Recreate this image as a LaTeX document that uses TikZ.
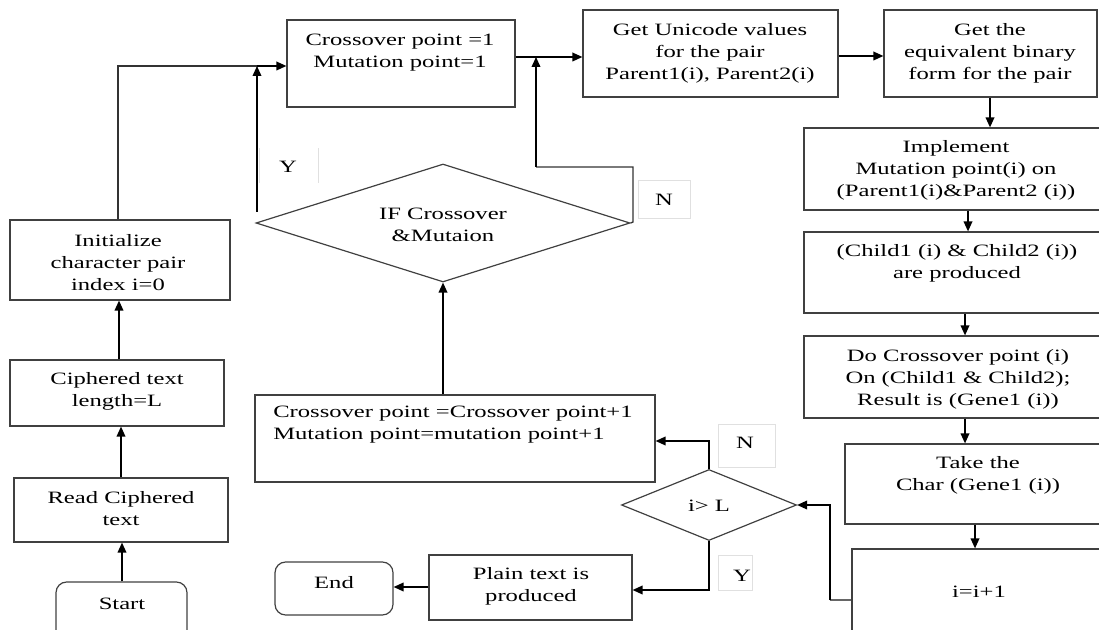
\documentclass[tikz,border=0pt]{standalone}
\usepackage{fontspec}
\setmainfont{Liberation Serif}[FakeStretch=1.42]
\usetikzlibrary{arrows.meta,fit,shapes.geometric}
\tikzset{
  box/.style={draw=black!75, line width=0.9pt, inner sep=0pt},
  rbox/.style={box, rounded corners=8pt},
  lbl/.style={draw=black!12, line width=0.6pt, inner sep=0pt},
  txt/.style={align=center, inner sep=0pt, font=\fontsize{13}{16.5}\selectfont},
  arr/.style={draw=black, line width=1.1pt, -{Triangle[length=7.5pt,width=6.5pt]}},
  ln/.style={draw=black!80, line width=1pt},
  dia/.style={diamond, draw=black!75, line width=0.9pt, inner sep=0pt}
}
\begin{document}
\begin{tikzpicture}[x=0.75pt,y=-0.75pt]
\useasboundingbox (0,0) rectangle (1099,630);
\clip (0,0) rectangle (1099,630);
% boxes
\node[rbox, fit={(56,582)(187,645)}] (start) {};
\node[txt] (startT) at (122,604) {Start};
\node[box, fit={(14,478)(228,542)}] (read) {};
\node[txt] (readT) at (121,509) {Read Ciphered\\text};
\node[box, fit={(10,360)(224,426)}] (ciph) {};
\node[txt] (ciphT) at (117,391) {Ciphered text\\length=L};
\node[box, fit={(10,220)(230,300)}] (init) {};
\node[txt] (initT) at (118,263) {Initialize\\character pair\\index i=0};
\node[box, fit={(287,20)(515,107)}] (cp) {};
\node[txt] (cpT) at (400,53) {Crossover point =1\\Mutation point=1};
\node[box, fit={(583,10)(838,97)}] (uni) {};
\node[txt] (uniT) at (710,53) {Get Unicode values\\for the pair\\Parent1(i), Parent2(i)};
\node[box, fit={(884,10)(1097,97)}] (bin) {};
\node[txt] (binT) at (990,53) {Get the\\equivalent binary\\form for the pair};
\node[box, fit={(804,128)(1115,210)}] (impl) {};
\node[txt] (implT) at (956,170) {Implement\\Mutation point(i) on\\(Parent1(i)\&Parent2 (i))};
\node[box, fit={(804,232)(1115,313)}] (child) {};
\node[txt] (childT) at (957,263) {(Child1 (i) \& Child2 (i))\\are produced};
\node[box, fit={(804,336)(1115,418)}] (dc) {};
\node[txt] (dcT) at (958,379) {Do Crossover point (i)\\On (Child1 \& Child2);\\Result is (Gene1 (i))};
\node[box, fit={(845,444)(1115,524)}] (tc) {};
\node[txt] (tcT) at (978,475) {Take the\\Char (Gene1 (i))};
\node[box, fit={(852,549)(1115,645)}] (inc) {};
\node[txt] (incT) at (979,592) {i=i+1};
\node[dia, minimum width=131.25pt, minimum height=53.25pt] (dec) at (709,505) {};
\node[txt] (decT) at (709,506) {i> L};
\node[box, fit={(255,395)(655,482)}] (cp2) {};
\node[txt, align=left, anchor=west] (cp2T) at (273,425) {Crossover point =Crossover point+1\\Mutation point=mutation point+1};
\node[box, fit={(429,555)(632,620)}] (plain) {};
\node[txt] (plainT) at (531,586) {Plain text is\\produced};
\node[rbox, fit={(275,562)(393,615)}] (endn) {};
\node[txt] (endT) at (334,583) {End};
\node[dia, minimum width=280.5pt, minimum height=88.5pt] (big) at (443,223) {};
\node[txt] (bigT) at (443,225) {IF Crossover\\\&Mutaion};
% labels
\draw[black!12, line width=0.6pt] (259,148) -- (259,183) (318,148) -- (318,183);
\node[txt] (yA) at (288,167) {Y};
\node[lbl, fit={(638,180)(690,218)}] (nAbox) {};
\node[txt] (nA) at (664,200) {N};
\node[lbl, fit={(718,424)(775,467)}] (nBbox) {};
\node[txt] (nB) at (745,443) {N};
\node[lbl, fit={(718,555)(752,590)}] (yBbox) {};
\node[txt] (yB) at (742,576) {Y};
% coordinates
\coordinate (j1) at (536,57);
\coordinate (j2) at (257,66);
% connectors
\draw[arr] (start.north -| 122,0) -- (read.south -| 122,0);
\draw[arr] (read.north -| 121,0) -- (ciph.south -| 121,0);
\draw[arr] (ciph.north -| 119,0) -- (init.south -| 119,0);
\draw[ln] (init.north -| 118,0) |- (j2);
\draw[arr] (j2) -- (cp.west |- j2);
\draw[arr] (j2 |- 0,212) -- (j2);
\draw[arr] (cp.east |- j1) -- (uni.west |- j1);
\draw[arr] (uni.east |- 0,56) -- (bin.west |- 0,56);
\draw[ln] (big.east) -- (633,222) -- (633,167) -- (536,167);
\draw[arr] (536,167) -- (j1);
\draw[arr] (bin.south -| 990,0) -- (impl.north -| 990,0);
\draw[arr] (impl.south -| 968,0) -- (child.north -| 968,0);
\draw[arr] (child.south -| 965,0) -- (dc.north -| 965,0);
\draw[arr] (dc.south -| 965,0) -- (tc.north -| 965,0);
\draw[arr] (tc.south -| 975,0) -- (inc.north -| 975,0);
\draw[ln, black!60] (inc.west |- 0,600) -- (830,600);
\draw[arr] (830,600) |- (dec.east);
\draw[arr] (dec.north) |- (cp2.east |- 0,441);
\draw[arr] (dec.south) |- (plain.east |- 0,590);
\draw[arr] (plain.west |- 0,587) -- (endn.east |- 0,587);
\draw[arr] (cp2.north -| big.south) -- (big.south);
\end{tikzpicture}
\end{document}
